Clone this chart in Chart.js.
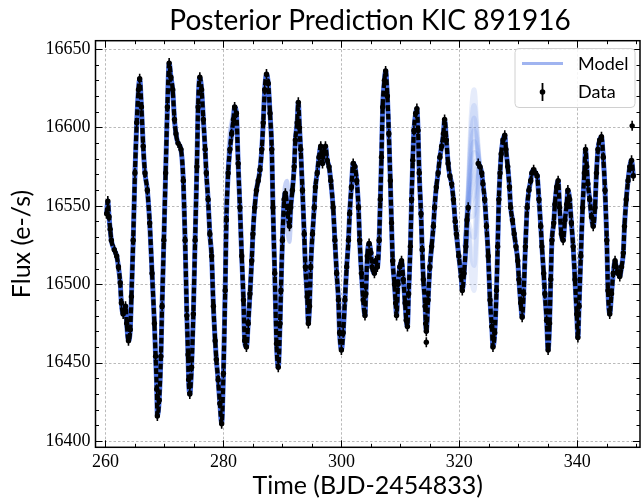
<!DOCTYPE html>
<html>
<head>
<meta charset="utf-8">
<script src="https://cdn.jsdelivr.net/npm/chart.js@4.4.0/dist/chart.umd.min.js"></script>
<style>
  html, body { margin: 0; padding: 0; background: #fff; }
  #wrap { width: 644px; height: 502px; }
</style>
</head>
<body>
<div id="wrap"><canvas id="lc" width="644" height="502"></canvas></div>
<script>
// light curve (time in BJD-2454833, flux in e-/s)
const times = [
  260.2, 260.4, 260.6, 260.8, 261.0, 261.5, 261.9, 262.2, 262.5, 262.7, 263.0, 263.4, 263.6, 263.9, 264.2, 264.4,
  264.7, 265.0, 265.3, 265.6, 265.8, 266.1, 266.4, 266.7, 267.1, 267.5, 267.9, 268.3, 268.5, 268.7, 268.8, 269.1,
  269.4, 269.6, 269.9, 270.2, 270.5, 270.8, 271.1, 271.4, 271.7, 271.95, 272.3, 272.8, 273.2, 273.5, 273.8, 274.0,
  274.1, 274.3, 274.6, 274.9, 275.2, 275.5, 275.7, 276.0, 276.3, 276.6, 276.9, 277.1, 277.4, 277.7, 278.0, 278.3,
  278.6, 278.8, 279.1, 279.4, 279.7, 280.0, 280.3, 280.5, 280.8, 281.1, 281.4, 281.7, 281.9, 282.2, 282.5, 282.8,
  283.1, 283.4, 283.6, 283.9, 284.2, 284.5, 284.8, 285.0, 285.3, 285.6, 285.9, 286.2, 286.5, 286.75, 287.0, 287.3,
  287.6, 287.9, 288.2, 288.4, 288.7, 289.0, 289.3, 289.6, 289.75, 290.0, 290.3, 290.5, 290.9, 291.2, 291.4, 291.7,
  292.0, 292.2, 292.5, 292.7, 292.9, 293.1, 293.4, 293.7, 293.9, 294.2, 294.4, 294.6, 294.8, 295.1, 295.4, 295.6,
  295.9, 296.2, 296.5, 296.8, 297.0, 297.3, 297.6, 297.9, 298.2, 298.6, 298.9, 299.2, 299.5, 299.7, 300.0, 300.3,
  300.6, 300.9, 301.2, 301.4, 301.7, 302.0, 302.3, 302.6, 302.9, 303.1, 303.4, 303.7, 304.0, 304.15, 304.4, 304.7,
  305.0, 305.2, 305.6, 305.8, 306.1, 306.4, 306.6, 306.8, 307.0, 307.3, 307.5, 307.8, 308.05, 308.3, 308.5, 308.7,
  309.0, 309.2, 309.35, 309.6, 309.9, 310.2, 310.5, 310.8, 311.0, 311.2, 311.4, 311.7, 311.9, 312.1, 312.3, 312.6,
  312.8, 313.0, 313.2, 313.5, 313.7, 313.9, 314.2, 314.3, 314.4, 314.7, 315.0, 315.3, 315.6, 315.8, 316.1, 316.4,
  316.7, 317.0, 317.3, 317.5, 317.8, 318.1, 318.4, 318.7, 319.0, 319.3, 319.5, 319.9, 320.3, 320.5, 320.8, 321.1,
  321.3, 321.5,
  323.2, 323.5, 323.8, 324.0, 324.3, 324.6, 324.9, 325.2, 325.5, 325.7, 326.0, 326.3, 326.5, 326.7, 326.9, 327.1,
  327.4, 327.7, 327.9, 328.2, 328.5, 328.7, 329.0, 329.3, 329.6, 329.9, 330.1, 330.4, 330.65, 330.9, 331.2, 331.5,
  331.8, 332.1, 332.3, 332.6, 332.9, 333.2, 333.5, 333.8, 334.0, 334.3, 334.5, 334.8, 335.05, 335.3, 335.5, 335.7,
  336.0, 336.2, 336.5, 336.75, 337.0, 337.3, 337.6, 337.9, 338.2, 338.4, 338.7, 339.0, 339.3, 339.6, 339.9, 340.1,
  340.3, 340.6, 340.9, 341.2, 341.4, 341.6, 341.8, 342.1, 342.4, 342.7, 343.0, 343.25, 343.5, 343.8, 344.1, 344.4,
  344.7, 345.0, 345.2, 345.5, 345.8, 346.1, 346.4, 346.6, 346.9, 347.2, 347.5, 347.8, 348.0, 348.3, 348.6, 348.9,
  349.2, 349.5
];
const flux = [
  16545, 16553, 16543, 16535, 16528, 16522, 16518, 16511, 16501, 16488, 16481, 16486, 16475, 16464, 16471, 16492,
  16528, 16571, 16603, 16624, 16631, 16613, 16588, 16571, 16560, 16539, 16507, 16475, 16454, 16433, 16416, 16426,
  16454, 16486, 16528, 16571, 16613, 16641, 16632, 16624, 16605, 16596, 16590, 16586, 16566, 16528, 16480, 16455,
  16439, 16430, 16447, 16481, 16528, 16575, 16613, 16632, 16624, 16605, 16586, 16571, 16554, 16532, 16518, 16486,
  16464, 16452, 16439, 16424, 16411, 16443, 16496, 16541, 16571, 16586, 16596, 16605, 16613, 16609, 16577, 16549,
  16518, 16490, 16464, 16460, 16475, 16494, 16515, 16532, 16549, 16560, 16566, 16573, 16586, 16603, 16624, 16634,
  16628, 16609, 16586, 16549, 16507, 16462, 16447, 16475, 16496, 16528, 16554, 16558, 16545, 16537, 16549, 16560,
  16575, 16592, 16603, 16616, 16600, 16586, 16560, 16532, 16511, 16492, 16475, 16486, 16511, 16532, 16549, 16562,
  16571, 16581, 16588, 16577, 16584, 16588, 16579, 16575, 16566, 16549, 16528, 16507, 16490, 16469, 16458, 16469,
  16490, 16511, 16528, 16545, 16562, 16577, 16575, 16566, 16549, 16528, 16507, 16490, 16480, 16494, 16518, 16526,
  16520, 16511, 16507, 16515, 16511, 16528, 16554, 16581, 16613, 16630, 16636, 16620, 16596, 16566, 16539, 16515,
  16500, 16488, 16480, 16500, 16511, 16515, 16503, 16488, 16477, 16473, 16494, 16524, 16554, 16579, 16598, 16609,
  16612, 16598, 16571, 16545, 16522, 16503, 16486, 16475, 16470, 16490, 16511, 16524, 16537, 16549, 16562, 16571,
  16581, 16588, 16596, 16605, 16592, 16577, 16569, 16564, 16554, 16540, 16532, 16518, 16505, 16496, 16507, 16524,
  16541, 16549,
  16577, 16575, 16571, 16564, 16554, 16537, 16518, 16490, 16473, 16460, 16469, 16496, 16524, 16554, 16571, 16583,
  16592, 16595, 16586, 16575, 16562, 16549, 16541, 16532, 16524, 16515, 16503, 16488, 16479, 16494, 16524, 16549,
  16560, 16566, 16571, 16573, 16571, 16569, 16554, 16537, 16524, 16507, 16494, 16477, 16458, 16475, 16503, 16528,
  16539, 16551, 16562, 16566, 16549, 16532, 16528, 16541, 16551, 16560, 16554, 16539, 16524, 16503, 16481, 16466,
  16486, 16518, 16549, 16571, 16586, 16575, 16564, 16554, 16543, 16537, 16549, 16571, 16586, 16592, 16594, 16581,
  16560, 16528, 16496, 16481, 16494, 16507, 16515, 16511, 16507, 16505, 16511, 16520, 16537, 16554, 16566, 16575,
  16579, 16569
];
const fluxErr = 3.2;
const gapTime = 322.3;

// points that sit off the model curve
const outlierTimes = [314.4, 349.3];
const outlierFlux = [16463, 16601];

// posterior draws where the data leave the model free
const gapTimes = [321.0, 321.5, 322.0, 322.5, 323.0, 323.4];
const gapDraws = [
  [16524, 16560, 16606, 16624, 16598, 16576],
  [16524, 16558, 16598, 16614, 16594, 16576],
  [16524, 16556, 16592, 16606, 16591, 16576],
  [16524, 16554, 16586, 16598, 16588, 16576],
  [16524, 16552, 16580, 16591, 16585, 16576],
  [16524, 16550, 16574, 16584, 16582, 16576],
  [16524, 16548, 16567, 16576, 16579, 16576],
  [16524, 16546, 16560, 16567, 16575, 16576],
  [16524, 16544, 16552, 16557, 16570, 16576],
  [16524, 16542, 16543, 16545, 16563, 16576],
  [16524, 16539, 16532, 16530, 16555, 16576],
  [16524, 16536, 16520, 16512, 16545, 16576],
  [16524, 16533, 16507, 16496, 16536, 16576]
];
const bumpTimes = [290.0, 290.4, 290.8, 291.2, 291.6];
const bumpDraws = [
  [16528, 16562, 16566, 16550, 16557],
  [16528, 16550, 16535, 16527, 16554]
];
const riseTimes = [280.0, 280.4, 280.9, 281.4, 281.9];
const riseDraws = [
  [16443, 16528, 16588, 16604, 16614]
];

const xTickValues = [260, 280, 300, 320, 340];
const yTickValues = [16400, 16450, 16500, 16550, 16600, 16650];
const xMinorStep = 5;
const yMinorStep = 10;
const xMin = 258.31, xMax = 350.63;
const yMin = 16396, yMax = 16655.3;

const modelBlue = 'rgb(65,105,225)';
const drawBlue = 'rgba(65,105,225,0.13)';

function pts(ts, fs) {
  return ts.map((t, i) => ({ x: t, y: fs[i] }));
}

// data series with a break across the gap
const dataPoints = [];
times.forEach((t, i) => {
  if (i > 0 && times[i - 1] < gapTime && t > gapTime) dataPoints.push({ x: gapTime, y: null });
  dataPoints.push({ x: t, y: flux[i] });
});

const datasets = [
  {
    label: 'Data', data: dataPoints, order: 0,
    borderColor: '#000', borderWidth: 4.2, borderDash: [6, 2.6],
    pointRadius: 2.7, pointBackgroundColor: '#000', pointBorderWidth: 0,
    cubicInterpolationMode: 'monotone', spanGaps: false
  },
  {
    label: 'Outliers', data: pts(outlierTimes, outlierFlux), order: 0,
    showLine: false, pointRadius: 2.7, pointBackgroundColor: '#000', pointBorderWidth: 0
  },
  {
    label: 'Model', data: dataPoints, order: 1,
    borderColor: modelBlue, borderWidth: 5, pointRadius: 0,
    cubicInterpolationMode: 'monotone', spanGaps: false
  }
];
gapDraws.forEach(d => datasets.push({
  label: 'draw', data: pts(gapTimes, d), order: 2,
  borderColor: drawBlue, borderWidth: 5, pointRadius: 0, cubicInterpolationMode: 'monotone'
}));
bumpDraws.concat(riseDraws).forEach((d, k) => datasets.push({
  label: 'draw', data: pts(k < bumpDraws.length ? bumpTimes : riseTimes, d), order: 2,
  borderColor: 'rgba(65,105,225,0.3)', borderWidth: 4, pointRadius: 0, cubicInterpolationMode: 'monotone'
}));

const errorBars = {
  id: 'errorBars',
  afterDatasetsDraw(chart) {
    const { ctx, chartArea: a, scales: { x, y } } = chart;
    ctx.save();
    ctx.beginPath();
    ctx.rect(a.left, a.top, a.right - a.left, a.bottom - a.top);
    ctx.clip();
    ctx.strokeStyle = '#000';
    ctx.lineWidth = 1.6;
    const all = pts(times, flux).concat(pts(outlierTimes, outlierFlux));
    ctx.beginPath();
    all.forEach(p => {
      const px = x.getPixelForValue(p.x);
      ctx.moveTo(px, y.getPixelForValue(p.y - fluxErr));
      ctx.lineTo(px, y.getPixelForValue(p.y + fluxErr));
    });
    ctx.stroke();
    ctx.restore();
  }
};

const frame = {
  id: 'frame',
  beforeDatasetsDraw(chart) {
    const { ctx, chartArea: a, scales: { x, y } } = chart;
    ctx.save();
    ctx.strokeStyle = '#a8a8a8';
    ctx.lineWidth = 0.8;
    ctx.setLineDash([2.5, 2]);
    ctx.beginPath();
    xTickValues.forEach(v => {
      const px = Math.round(x.getPixelForValue(v)) + 0.5;
      ctx.moveTo(px, a.top); ctx.lineTo(px, a.bottom);
    });
    yTickValues.forEach(v => {
      const py = Math.round(y.getPixelForValue(v)) + 0.5;
      ctx.moveTo(a.left, py); ctx.lineTo(a.right, py);
    });
    ctx.stroke();
    ctx.restore();
  },
  afterDraw(chart) {
    const { ctx, chartArea: a, scales: { x, y } } = chart;
    ctx.save();
    ctx.strokeStyle = '#000';
    ctx.lineWidth = 1;
    ctx.beginPath();
    for (let v = Math.ceil(xMin / xMinorStep) * xMinorStep; v <= xMax; v += xMinorStep) {
      const px = Math.round(x.getPixelForValue(v)) + 0.5;
      const len = xTickValues.includes(v) ? 7 : 3.5;
      ctx.moveTo(px, a.bottom); ctx.lineTo(px, a.bottom - len);
      ctx.moveTo(px, a.top); ctx.lineTo(px, a.top + len);
    }
    for (let v = Math.ceil(yMin / yMinorStep) * yMinorStep; v <= yMax; v += yMinorStep) {
      const py = Math.round(y.getPixelForValue(v)) + 0.5;
      const len = yTickValues.includes(v) ? 7 : 3.5;
      ctx.moveTo(a.left, py); ctx.lineTo(a.left + len, py);
      ctx.moveTo(a.right, py); ctx.lineTo(a.right - len, py);
    }
    ctx.stroke();
    ctx.lineWidth = 1.5;
    ctx.strokeRect(a.left, a.top, a.right - a.left, a.bottom - a.top);

    // title
    ctx.fillStyle = '#000';
    ctx.font = '28px Lato';
    ctx.textAlign = 'center';
    ctx.textBaseline = 'alphabetic';
    ctx.fillText('Posterior Prediction KIC 891916', 370, 30);

    // legend
    const bx = 515, by = 48.5, bw = 120, bh = 59;
    ctx.fillStyle = 'rgba(255,255,255,0.85)';
    ctx.strokeStyle = '#d0d0d0';
    ctx.lineWidth = 1;
    ctx.beginPath();
    ctx.roundRect(bx, by, bw, bh, 4);
    ctx.fill();
    ctx.stroke();
    ctx.strokeStyle = 'rgba(65,105,225,0.5)';
    ctx.lineWidth = 2.8;
    ctx.beginPath();
    ctx.moveTo(522, 63.5); ctx.lineTo(563, 63.5);
    ctx.stroke();
    ctx.strokeStyle = '#000';
    ctx.lineWidth = 1.8;
    ctx.beginPath();
    ctx.moveTo(542.5, 83); ctx.lineTo(542.5, 101);
    ctx.stroke();
    ctx.fillStyle = '#000';
    ctx.beginPath();
    ctx.arc(542.5, 92, 2.8, 0, Math.PI * 2);
    ctx.fill();
    ctx.font = '18px Lato';
    ctx.textAlign = 'left';
    ctx.textBaseline = 'middle';
    ctx.fillText('Model', 578, 64);
    ctx.fillText('Data', 578, 92);
    ctx.restore();
  }
};

new Chart(document.getElementById('lc'), {
  type: 'line',
  data: { datasets },
  options: {
    responsive: false,
    animation: false,
    devicePixelRatio: 1,
    layout: { padding: { left: 0, right: 4, top: 40.7, bottom: 0 } },
    plugins: { legend: { display: false }, title: { display: false }, tooltip: { enabled: false } },
    scales: {
      x: {
        type: 'linear', min: xMin, max: xMax,
        afterBuildTicks: s => { s.ticks = xTickValues.map(v => ({ value: v })); },
        afterFit: s => { s.height = 54.7; },
        grid: { display: false, drawTicks: false },
        border: { display: false },
        ticks: {
          font: { family: 'Liberation Serif', size: 18 }, color: '#000', padding: 4, maxRotation: 0, autoSkip: false,
          callback: v => String(v)
        },
        title: { display: true, text: 'Time (BJD-2454833)', color: '#000', font: { family: 'Lato', size: 25 }, padding: { top: 0, bottom: 1 } }
      },
      y: {
        type: 'linear', min: yMin, max: yMax,
        afterBuildTicks: s => { s.ticks = yTickValues.map(v => ({ value: v })); },
        afterFit: s => { s.width = 95.5; },
        grid: { display: false, drawTicks: false },
        border: { display: false },
        ticks: {
          font: { family: 'Liberation Serif', size: 18 }, color: '#000', padding: 5, autoSkip: false,
          callback: v => String(v)
        },
        title: { display: true, text: 'Flux (e-/s)', color: '#000', font: { family: 'Lato', size: 25 }, padding: { top: 7, bottom: 0 } }
      }
    }
  },
  plugins: [frame, errorBars]
});
</script>
</body>
</html>
